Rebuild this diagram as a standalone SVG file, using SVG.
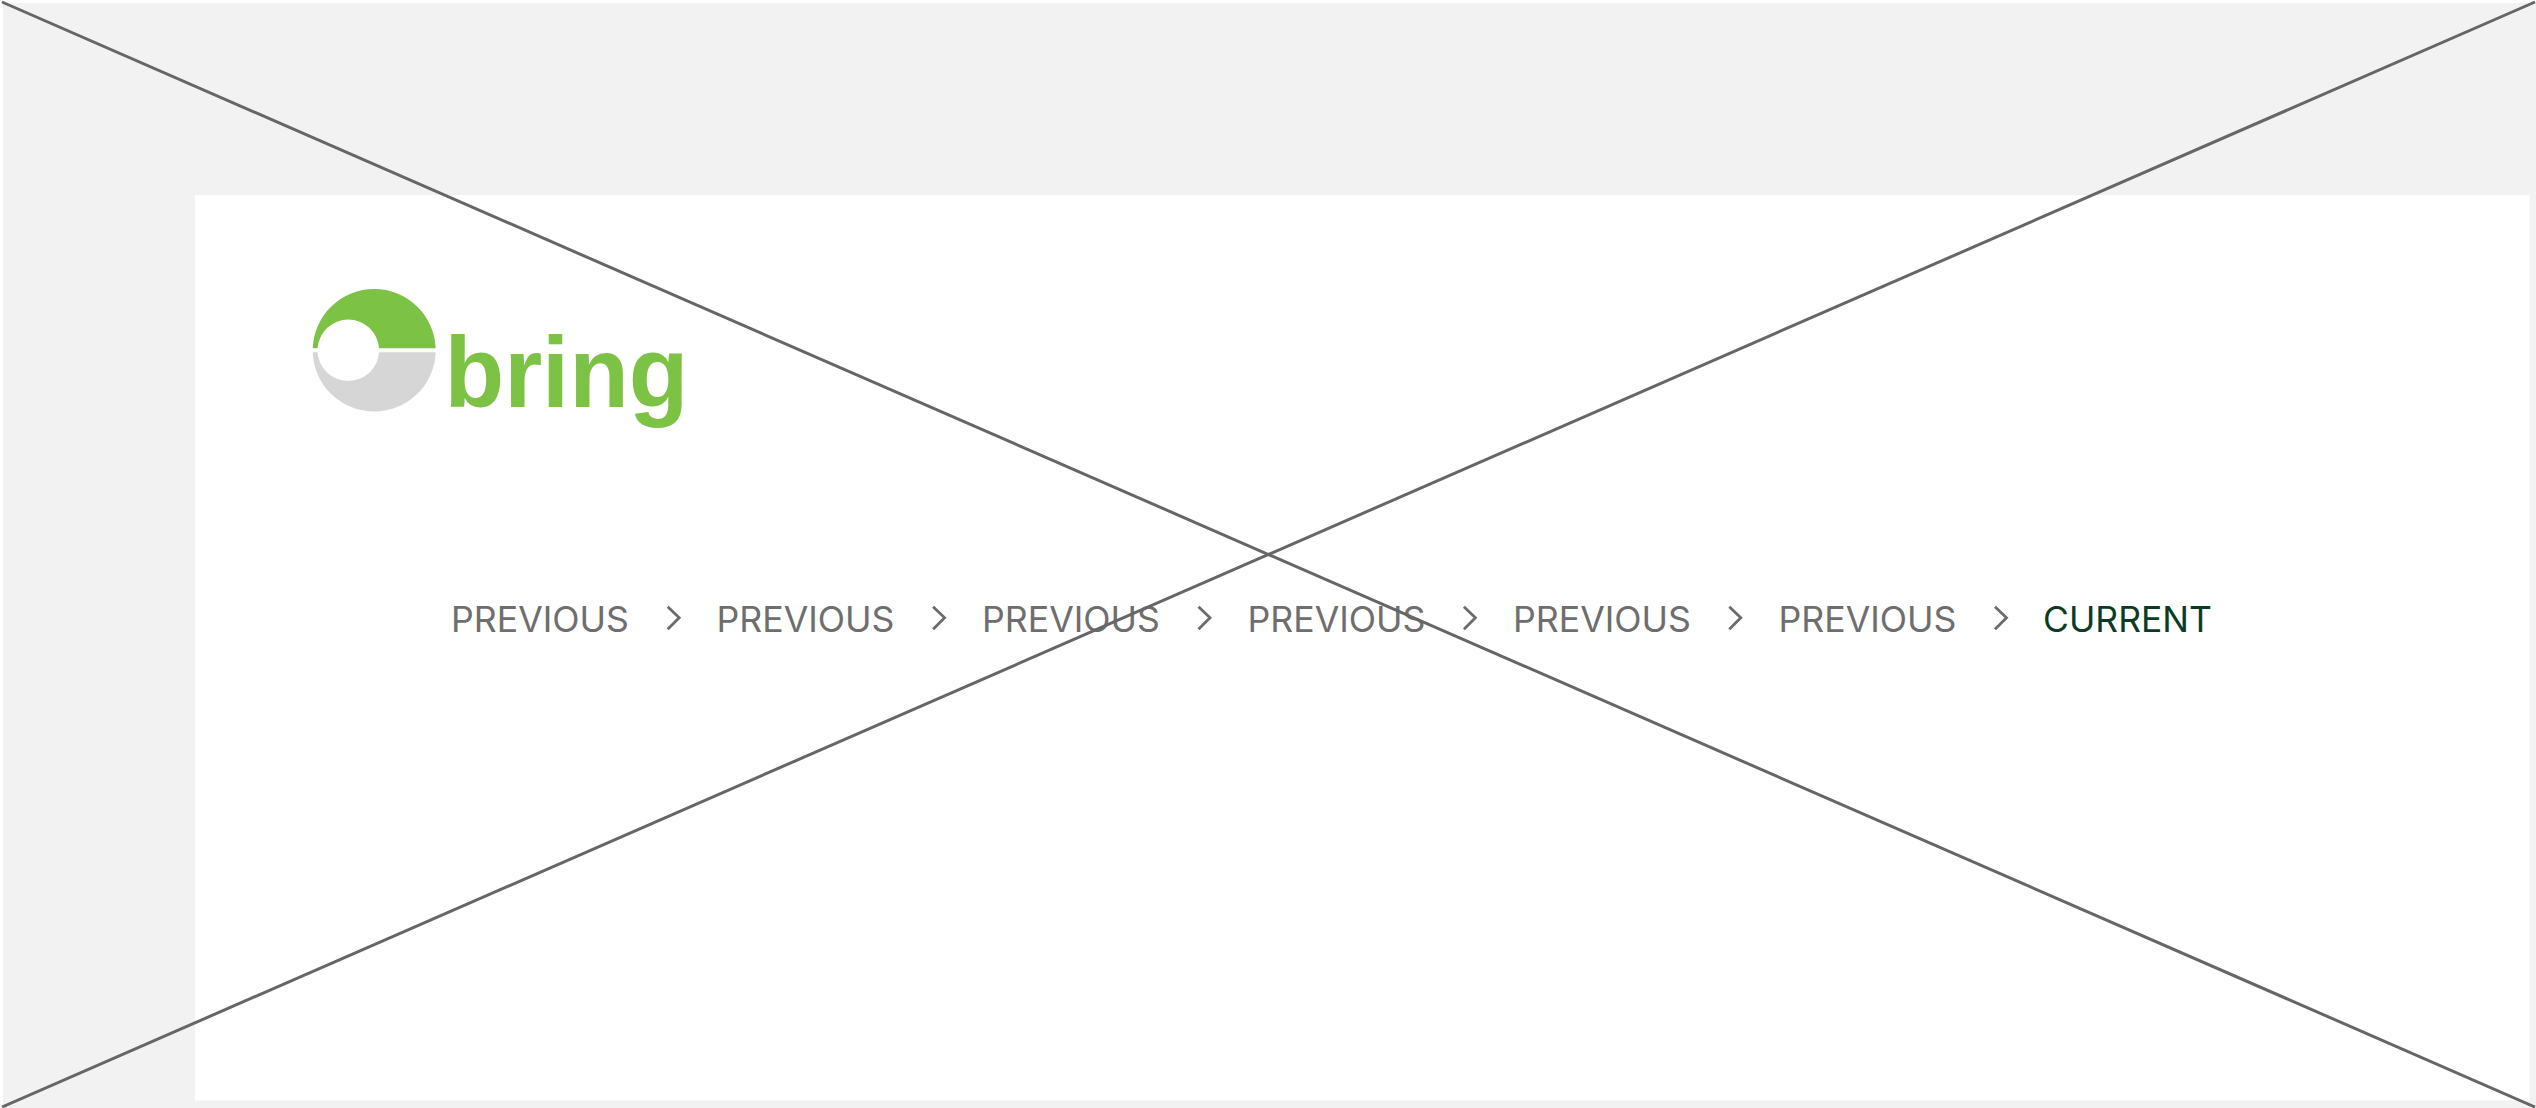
<svg xmlns="http://www.w3.org/2000/svg" width="2536" height="1108" viewBox="0 0 2536 1108">
<style>
.p{font-family:"Inter","Liberation Sans",sans-serif;font-size:35px;fill:#6e6e6e}
.c{fill:none;stroke:#6b6b6b;stroke-width:2.800}
.x{stroke:#666;stroke-width:3;fill:none}
</style>
<defs><path id="ch" class="c" d="M0 0L11.500 11L0 22.500"/></defs>
<g id="page-bg"><rect x="0" y="0" width="2536" height="1108" fill="#fff"/><rect x="3" y="3" width="2533" height="1105" fill="#f2f2f2"/></g>
<g id="content"><rect x="195" y="195" width="2334.500" height="905.500" fill="#fff"/></g>
<g id="logo">
<path d="M312.740 348.300A61.500 61.500 0 0 1 435.660 348.300H379.030A30.800 30.800 0 0 0 317.570 348.300Z" fill="#7cc244"/>
<path d="M312.740 352.300A61.500 61.500 0 0 0 435.660 352.300H379.030A30.800 30.800 0 0 1 317.570 352.300Z" fill="#d6d6d6"/>
<text x="444.500" y="407" font-family="'Liberation Sans',Arial,sans-serif" font-size="101" font-weight="700" fill="#7cc244" textLength="244" lengthAdjust="spacingAndGlyphs">bring</text>
</g>
<g id="breadcrumb">
<text class="p" x="451" y="631.500" textLength="178" lengthAdjust="spacingAndGlyphs">PREVIOUS</text>
<text class="p" x="716.500" y="631.500" textLength="178" lengthAdjust="spacingAndGlyphs">PREVIOUS</text>
<text class="p" x="982" y="631.500" textLength="178" lengthAdjust="spacingAndGlyphs">PREVIOUS</text>
<text class="p" x="1247.500" y="631.500" textLength="178" lengthAdjust="spacingAndGlyphs">PREVIOUS</text>
<text class="p" x="1513" y="631.500" textLength="178" lengthAdjust="spacingAndGlyphs">PREVIOUS</text>
<text class="p" x="1778.500" y="631.500" textLength="178" lengthAdjust="spacingAndGlyphs">PREVIOUS</text>
<text class="p" x="2043" y="631.500" textLength="169" lengthAdjust="spacingAndGlyphs" style="fill:#0b3b24">CURRENT</text>
<use href="#ch" x="667.700" y="606.700"/>
<use href="#ch" x="933.100" y="606.700"/>
<use href="#ch" x="1198.500" y="606.700"/>
<use href="#ch" x="1463.900" y="606.700"/>
<use href="#ch" x="1729.300" y="606.700"/>
<use href="#ch" x="1995" y="606.700"/>
</g>
<g id="connectors">
<line class="x" x1="2" y1="2" x2="2535" y2="1107"/>
<line class="x" x1="2" y1="1107" x2="2535" y2="2"/>
</g>
</svg>
